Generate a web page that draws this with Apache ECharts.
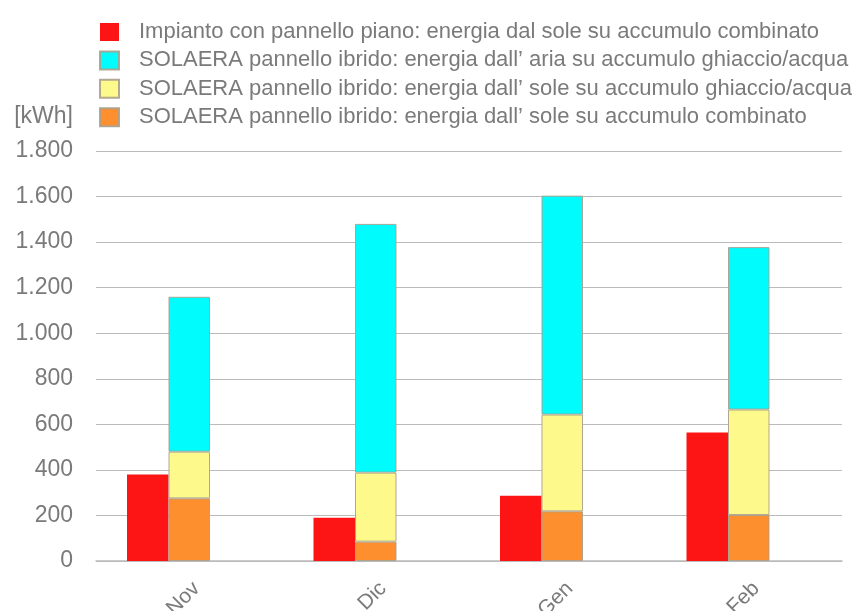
<!DOCTYPE html>
<html><head><meta charset="utf-8">
<script src="https://cdn.jsdelivr.net/npm/echarts@6/dist/echarts.min.js"></script>
<style>html,body{margin:0;padding:0;background:#fff}#c{width:865px;height:611px}</style>
</head><body><div id="c"></div>
<script>
var categories = ['Nov', 'Dic', 'Gen', 'Feb'];
var seriesNames = [
  'Impianto con pannello piano: energia dal sole su accumulo combinato',
  'SOLAERA pannello ibrido: energia dall\u2019 aria su accumulo ghiaccio/acqua',
  'SOLAERA pannello ibrido: energia dall\u2019 sole su accumulo ghiaccio/acqua',
  'SOLAERA pannello ibrido: energia dall\u2019 sole su accumulo combinato'
];
var pianoSole = [380, 190, 287, 564];
var ibridoAria = [680, 1092, 961, 713];
var ibridoSoleGhiaccio = [205, 303, 425, 463];
var ibridoSoleCombinato = [275, 85, 218, 202];
var yTicks = [0, 200, 400, 600, 800, 1000, 1200, 1400, 1600, 1800];

function fmt(v) { return String(v).replace(/\B(?=(\d{3})+(?!\d))/g, '.'); }

var chart = echarts.init(document.getElementById('c'));
var font = 'Liberation Sans';
var border = { borderColor: 'rgba(170,160,140,0.9)', borderWidth: 1 };
chart.setOption({
  animation: false,
  legend: {
    data: [seriesNames[0], seriesNames[1], seriesNames[2], seriesNames[3]],
    orient: 'vertical',
    left: 99, top: 21, padding: 0,
    itemWidth: 19, itemHeight: 18, itemGap: 6.4,
    icon: 'rect',
    textStyle: { color: '#7a7a7a', fontSize: 22, lineHeight: 18, fontFamily: font, padding: [0, 0, 0, 15] }
  },
  grid: { left: 96, right: 23, top: 151, bottom: 50, outerBoundsMode: 'none', containLabel: false },
  xAxis: {
    type: 'category', data: categories,
    axisLine: { lineStyle: { color: '#bbb', width: 1.5 } },
    axisTick: { show: false },
    axisLabel: { rotate: 45, color: '#7a7a7a', fontSize: 21, fontFamily: font, margin: 17, verticalAlign: 'top' }
  },
  yAxis: {
    type: 'value', min: yTicks[0], max: yTicks[yTicks.length - 1], interval: 200,
    name: '[kWh]', nameLocation: 'end', nameGap: 23,
    nameTextStyle: { color: '#7a7a7a', fontSize: 23, fontFamily: font, align: 'right', padding: [0, 23, 0, 0] },
    axisLine: { show: false }, axisTick: { show: false },
    splitLine: { lineStyle: { color: '#bbb', width: 1.2 } },
    axisLabel: { color: '#7a7a7a', fontSize: 23, fontFamily: font, margin: 23, formatter: fmt }
  },
  series: [
    { name: seriesNames[0], type: 'bar', stack: 'a', barWidth: 41.5, barGap: '0%', data: pianoSole,
      itemStyle: { color: '#fd1414' } },
    { name: seriesNames[3], type: 'bar', stack: 'b', barWidth: 41.5, barGap: '0%', data: ibridoSoleCombinato,
      itemStyle: Object.assign({ color: '#fd8f2f' }, border) },
    { name: seriesNames[2], type: 'bar', stack: 'b', barWidth: 41.5, barGap: '0%', data: ibridoSoleGhiaccio,
      itemStyle: Object.assign({ color: '#fdf98b' }, border) },
    { name: seriesNames[1], type: 'bar', stack: 'b', barWidth: 41.5, barGap: '0%', data: ibridoAria,
      itemStyle: Object.assign({ color: '#00fcfc' }, border) },
    { name: 'vuoto', type: 'bar', stack: 'c', barWidth: 41.5, barGap: '0%', data: [null, null, null, null] }
  ]
});
</script></body></html>
